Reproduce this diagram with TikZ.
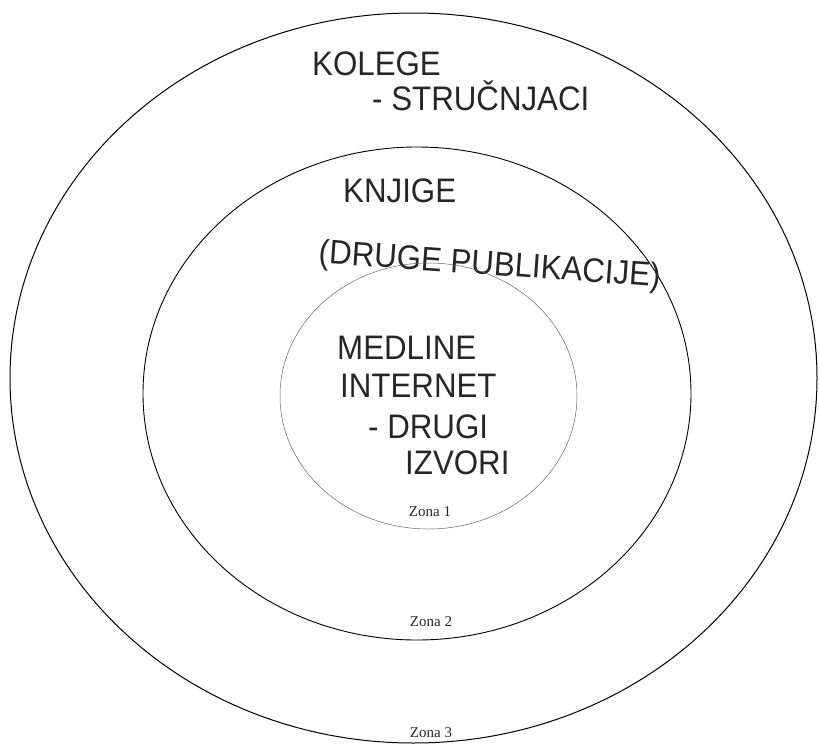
\documentclass[tikz,border=0pt]{standalone}
\usepackage{fontspec}
\setmainfont{Liberation Serif}
\newfontfamily\handfont[FakeStretch=0.92]{Liberation Sans}
\usetikzlibrary{shapes.geometric, positioning}

\begin{document}
\begin{tikzpicture}[
    x=1pt, y=-1pt,
    zone/.style={
        draw=black, ellipse, inner sep=0pt, line width=#1
    },
    hand/.style={
        font=\handfont\fontsize{34}{36}\selectfont, text=black!85, anchor=base west, inner sep=0pt
    },
    zonelabel/.style={
        font=\fontsize{15}{16}\selectfont, text=black!85
    }
]
\useasboundingbox (0,0) rectangle (819,744);

% Zone 3: colleagues
\node[zone=1pt, minimum width=807pt, minimum height=730pt] (zone3) at (413.5, 378) {};
\node[hand] (kolege) at (312, 75) {KOLEGE};
\node[hand] (strucnjaci) at (372, 110) {- STRUČNJACI};
\node[zonelabel] (zona3) at (431, 733) {Zona 3};

% Zone 2: books
\node[zone=0.9pt, minimum width=548pt, minimum height=493pt] (zone2) at (417, 393.5) {};
\node[hand] (knjige) at (343, 202) {KNJIGE};
\node[hand, rotate=-4] (publikacije) at (318, 263) {(DRUGE PUBLIKACIJE)};
\node[zonelabel] (zona2) at (431, 622) {Zona 2};

% Zone 1: online sources
\node[zone=0.5pt, draw=black!60, minimum width=297pt, minimum height=266pt] (zone1) at (428.5, 396) {};
\node[hand] (medline) at (337, 359) {MEDLINE};
\node[hand] (internet) at (340, 397) {INTERNET};
\node[hand] (drugi) at (368, 438) {- DRUGI};
\node[hand] (izvori) at (405, 474) {IZVORI};
\node[zonelabel] (zona1) at (430, 512) {Zona 1};

\end{tikzpicture}
\end{document}
